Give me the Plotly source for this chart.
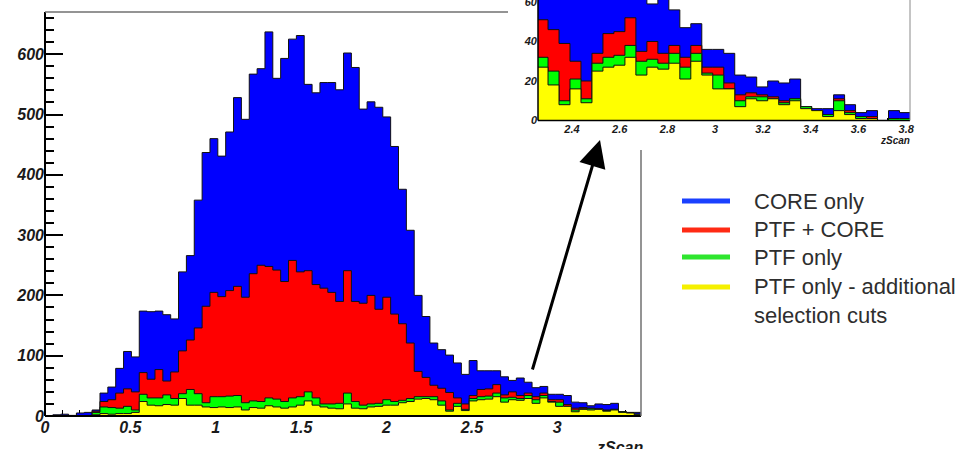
import plotly.graph_objects as go

# zScan histograms, fixed-width bins starting at zero
bin_start = 0.0
bin_width = 0.046

core_only = [0, 2, 3, 1, 5, 6, 10, 38, 48, 79,
             107, 98, 174, 173, 174, 168, 161, 239, 266, 358,
             437, 460, 431, 471, 528, 492, 567, 576, 637, 560,
             593, 625, 631, 550, 536, 553, 553, 541, 602, 578,
             509, 521, 512, 496, 447, 376, 308, 200, 165, 121,
             110, 101, 88, 69, 92, 75, 75, 75, 65, 59,
             63, 56, 47, 49, 36, 36, 34, 23, 22, 17,
             20, 19, 21, 7, 6, 6, 13, 8, 4, 5,
             0, 5, 4]

ptf_core = [0, 0, 0, 0, 0, 0, 8, 24, 27, 38,
            45, 40, 72, 61, 77, 58, 73, 108, 126, 146,
            182, 205, 198, 208, 215, 197, 236, 250, 248, 242,
            223, 258, 239, 241, 218, 212, 205, 190, 241, 190,
            187, 200, 177, 197, 169, 153, 121, 74, 64, 51,
            46, 39, 30, 20, 34, 44, 45, 52, 35, 40,
            34, 38, 32, 38, 27, 27, 19, 13, 14, 13,
            12, 10, 11, 7, 5, 3, 11, 5, 2, 2,
            0, 1, 1]

ptf_only = [0, 0, 0, 0, 0, 0, 6, 15, 14, 13,
            16, 10, 36, 30, 30, 35, 29, 37, 44, 37,
            22, 32, 32, 33, 34, 22, 25, 24, 30, 28,
            24, 30, 32, 40, 30, 20, 20, 21, 38, 24,
            18, 20, 21, 27, 24, 26, 29, 32, 32, 32,
            25, 10, 21, 11, 29, 32, 33, 38, 30, 31,
            29, 34, 27, 34, 24, 23, 16, 10, 12, 12,
            11, 9, 11, 7, 5, 3, 10, 4, 2, 1,
            0, 1, 1]

ptf_only_cuts = [0, 0, 0, 0, 0, 0, 2, 4, 3, 4,
                 4, 6, 24, 18, 17, 19, 18, 29, 18, 18,
                 15, 14, 15, 14, 15, 10, 14, 13, 17, 15,
                 13, 15, 18, 25, 18, 15, 13, 12, 20, 13,
                 12, 15, 16, 18, 18, 22, 24, 28, 29, 27,
                 18, 8, 16, 9, 25, 27, 28, 32, 23, 27,
                 26, 29, 21, 30, 23, 16, 16, 7, 11, 10,
                 11, 8, 10, 6, 5, 2, 5, 3, 1, 1,
                 0, 0, 0]

series_names = ["CORE only", "PTF + CORE", "PTF only",
                "PTF only - additional selection cuts"]
series_values = [core_only, ptf_core, ptf_only, ptf_only_cuts]
fill_colors = ["#0000ff", "#ff0000", "#00ff00", "#ffff00"]
legend_colors = ["#1a40ff", "#ff2a14", "#2ee62e", "#f5f000"]

W, H = 962, 449


def px(x):
    return x / W


def py(y):
    return 1 - y / H


edges = [bin_start + bin_width * i for i in range(len(core_only) + 1)]

fig = go.Figure()

# overlaid step histograms: main view and zoomed inset
for xa, ya in (("x", "y"), ("x2", "y2")):
    for name, vals, col in zip(series_names, series_values, fill_colors):
        fig.add_trace(go.Scatter(
            x=edges, y=list(vals) + [vals[-1]],
            mode="lines", line=dict(shape="hv", color="#111111", width=1),
            fill="tozeroy", fillcolor=col,
            name=name, showlegend=False, hoverinfo="skip",
            xaxis=xa, yaxis=ya,
        ))

tickfont_big = dict(family="Liberation Sans", size=16, weight="bold",
                    style="italic", color="#1a1a1a")
tickfont_small = dict(family="Liberation Sans", size=11, weight="bold",
                      style="italic", color="#1a1a1a")

common_axis = dict(showgrid=False, zeroline=False, showline=False,
                   layer="below traces", automargin=False,
                   tickmode="linear", tick0=0, tickcolor="black",
                   ticks="inside", ticklabeloverflow="allow")

fig.update_layout(
    width=W, height=H, autosize=False,
    margin=dict(l=0, r=0, t=0, b=0, pad=0),
    paper_bgcolor="white", plot_bgcolor="white",
    showlegend=False,
    xaxis=dict(
        common_axis, domain=[px(45), px(641)], range=[0, 3.49], anchor="y",
        dtick=0.5, ticklen=12, tickwidth=1.5,
        minor=dict(dtick=0.1, ticklen=6, tickwidth=1, tickcolor="black",
                   ticks="inside"),
        tickfont=tickfont_big,
    ),
    yaxis=dict(
        common_axis, domain=[py(416), py(12)], range=[0, 670], anchor="x",
        dtick=100, ticklen=18, tickwidth=2,
        minor=dict(dtick=20, ticklen=9, tickwidth=1.5, tickcolor="black",
                   ticks="inside"),
        tickfont=tickfont_big,
    ),
    xaxis2=dict(
        common_axis, domain=[px(538), px(910)], range=[2.258, 3.816],
        anchor="y2", dtick=0.2, ticklen=5, tickwidth=1,
        minor=dict(dtick=0.04, ticklen=3, tickcolor="black", ticks="inside"),
        tickfont=tickfont_small,
    ),
    yaxis2=dict(
        common_axis, domain=[py(120.5), 1], range=[0, 61], anchor="x2",
        dtick=20, ticklen=12, tickwidth=1.5,
        minor=dict(dtick=4, ticklen=6, tickwidth=1, tickcolor="black",
                   ticks="inside"),
        tickfont=tickfont_small,
    ),
)

shapes = []


def seg(x0, y0, x1, y1, color, width):
    shapes.append(dict(type="line", xref="paper", yref="paper",
                       x0=px(x0), y0=py(y0), x1=px(x1), y1=py(y1),
                       line=dict(color=color, width=width), layer="above"))


# frame of the main pad
seg(45, 12, 45, 416, "black", 2)
seg(45, 416, 641, 416, "black", 2)
seg(45, 12, 508, 12, "#707070", 1.5)
seg(641, 150, 641, 416, "#707070", 1.5)
# frame of the inset
seg(538, 0, 538, 120.5, "black", 1.5)
seg(538, 120.5, 910, 120.5, "black", 1.5)
seg(910, 0, 910, 120.5, "#8a8a8a", 1)

# legend swatches
legend_rows = [201, 230, 257, 287]
for y, col in zip(legend_rows, legend_colors):
    seg(682, y, 730, y, col, 5)

fig.update_layout(shapes=shapes)

annotations = [
    dict(text="zScan", xref="paper", yref="paper", x=px(645), y=py(437),
         xanchor="right", yanchor="top", showarrow=False,
         font=dict(family="Liberation Sans", size=16, weight="bold",
                   style="italic", color="#1a1a1a")),
    dict(text="zScan", xref="paper", yref="paper", x=px(912), y=py(133),
         xanchor="right", yanchor="top", showarrow=False,
         font=dict(family="Liberation Sans", size=10, weight="bold",
                   style="italic", color="#1a1a1a")),
    dict(text="", xref="paper", yref="paper", x=px(600), y=py(140),
         ax=-68, ay=231, showarrow=True, arrowhead=2, arrowsize=1.8,
         arrowwidth=3, arrowcolor="black"),
]

legend_text_y = [201, 229, 257, 286]
legend_lines = ["CORE only", "PTF + CORE", "PTF only", "PTF only - additional"]
legend_font = dict(family="Liberation Sans", size=22, color="#2e2e2e")
for y, txt in zip(legend_text_y, legend_lines):
    annotations.append(dict(
        text=txt, xref="paper", yref="paper", x=px(752), y=py(y),
        xanchor="left", yanchor="middle", showarrow=False, font=legend_font))
annotations.append(dict(
    text="selection cuts", xref="paper", yref="paper", x=px(752), y=py(315),
    xanchor="left", yanchor="middle", showarrow=False, font=legend_font))

fig.update_layout(annotations=annotations)

fig.write_html("out.html")
